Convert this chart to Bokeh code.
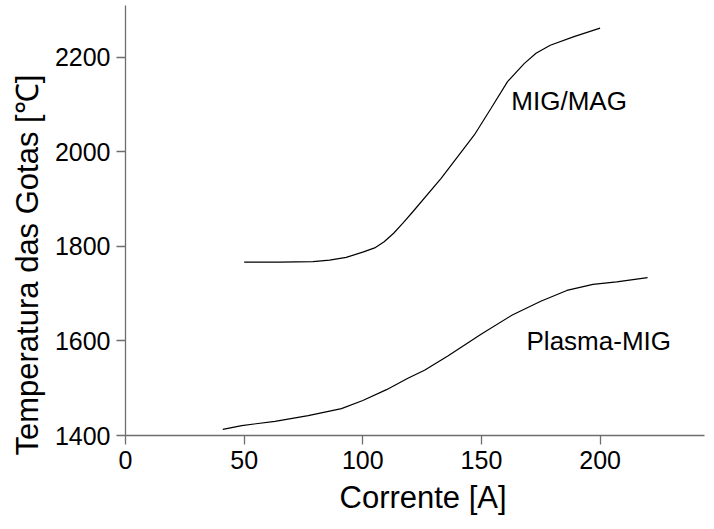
from bokeh.plotting import figure
from bokeh.models import Range1d, FixedTicker, ColumnDataSource, Title
from bokeh.core.properties import value
from bokeh.embed import file_html
from bokeh.resources import INLINE

# Data
mig_x = [50, 65, 79, 86, 93, 100, 105, 109, 113, 117, 121, 133, 147, 154, 161, 168, 173, 179, 189, 200]
mig_y = [1767, 1767, 1768, 1771, 1777, 1788, 1797, 1810, 1828, 1850, 1873, 1944, 2036, 2092, 2149, 2187, 2209, 2226, 2244, 2262]

plasma_x = [41, 49, 63, 77, 91, 100, 110, 119, 126, 136, 150, 163, 175, 186, 197, 207, 220]
plasma_y = [1413, 1421, 1430, 1442, 1457, 1474, 1497, 1521, 1538, 1569, 1615, 1655, 1684, 1707, 1720, 1725, 1734]

label_text = ["MIG/MAG", "Plasma-MIG"]
label_x = [162.6, 169]
label_y = [2107, 1600]

x_ticks = [0, 50, 100, 150, 200]
y_ticks = [1400, 1600, 1800, 2000, 2200]

x_title = "Corrente [A]"
y_title = "Temperatura das Gotas [℃]"

FONT = "Liberation Sans"

p = figure(width=706, height=521, output_backend="svg", toolbar_location=None,
           x_range=Range1d(0, 244), y_range=Range1d(1400, 2310),
           min_border_left=123, min_border_right=2, min_border_top=5, min_border_bottom=86)

p.outline_line_color = None
p.xgrid.visible = False
p.ygrid.visible = False
p.background_fill_color = "white"
p.border_fill_color = "white"

for ax in (p.xaxis[0], p.yaxis[0]):
    ax.axis_line_color = "#6e6e6e"
    ax.axis_line_width = 1.3
    ax.major_tick_line_color = "#6e6e6e"
    ax.major_tick_line_width = 1.3
    ax.major_tick_out = 9
    ax.major_tick_in = 0
    ax.minor_tick_line_color = None
    ax.major_label_text_font = FONT
    ax.major_label_text_font_size = "25px"
    ax.major_label_text_color = "black"
    ax.major_label_standoff = 6

p.xaxis[0].ticker = FixedTicker(ticks=x_ticks)
p.yaxis[0].ticker = FixedTicker(ticks=y_ticks)

p.line(mig_x, mig_y, line_color="black", line_width=1.2)
p.line(plasma_x, plasma_y, line_color="black", line_width=1.2)

src = ColumnDataSource(dict(x=label_x, y=label_y, t=label_text))
p.text(x="x", y="y", text="t", source=src, text_font=value(FONT),
       text_font_size="26px", text_align="left", text_baseline="alphabetic", text_color="black")

# Axis titles as side titles so that they can be shifted along the axis
p.add_layout(Title(text=x_title, align="left", offset=214, standoff=12,
                   text_font=FONT, text_font_size="31px", text_font_style="normal",
                   text_color="black"), "below")
p.add_layout(Title(text=y_title, align="left", offset=-20, standoff=14,
                   text_font=FONT, text_font_size="31px", text_font_style="normal",
                   text_color="black"), "left")

open("out.html", "w").write(file_html(p, INLINE))
